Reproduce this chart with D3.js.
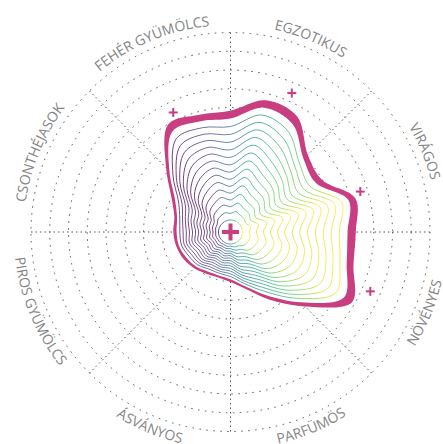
<!DOCTYPE html>
<html>
<head>
<meta charset="utf-8">
<script src="https://cdn.jsdelivr.net/npm/d3@7"></script>
<style>
  body { margin: 0; background: #fff; }
  svg { display: block; }
  .label { font-family: "Open Sans", sans-serif; font-size: 14px; fill: #858585; }
</style>
</head>
<body>
<svg id="chart" width="443" height="444"></svg>
<script>
// Categories, clockwise starting right of 12 o'clock
const categories = ['EGZOTIKUS', 'VIRÁGOS', 'NÖVÉNYES', 'PARFÜMÖS', 'ÁSVÁNYOS', 'PIROS GYÜMÖLCS', 'CSONTHÉJASOK', 'FEHÉR GYÜMÖLCS'];
const ringValues = [0, 1, 2, 3, 4, 5, 6, 7, 8, 9, 10];

// outline of the aroma blob, one value every 15 degrees
const shapeAngles = [0, 15, 30, 45, 60, 75, 90, 105, 120, 135, 150, 165, 180, 195, 210, 225, 240, 255, 270, 285, 300, 315, 330, 345];
const shapeValues = [5.83, 6.63, 6.47, 5.19, 4.97, 6.26, 6.04, 6.15, 6.84, 4.97, 3.53, 2.51, 2.03, 1.87, 1.93, 2.09, 2.25, 2.35, 2.41, 2.46, 2.99, 4.22, 5.99, 5.83];

// "+" markers
const markerAngles = [23.8, 72.7, 113, 334.4];
const markerValues = [7.46, 6.61, 7.46, 6.43];

const cx = 230.5, cy = 232;
const contourCount = 15;
const wobble = 0.028; // ripple of the inner lines, share of local radius

const svg = d3.select('#chart');
const g = svg.append('g').attr('transform', `translate(${cx},${cy})`);

const rScale = d3.scaleLinear().domain([0, 10]).range([12, 199.5]);
const catAngle = d3.scaleLinear().domain([0, categories.length]).range([22.5, 382.5]);
const rad = deg => deg * Math.PI / 180;
const polar = (deg, r) => [r * Math.sin(rad(deg)), -r * Math.cos(rad(deg))];

// Gradient for the inner contour lines
const defs = svg.append('defs');
const grad = defs.append('linearGradient').attr('id', 'contourGrad')
    .attr('x1', '0%').attr('x2', '100%').attr('y1', '0%').attr('y2', '0%');
d3.range(0, 1.01, 0.1).forEach(t => {
    grad.append('stop').attr('offset', `${t * 100}%`).attr('stop-color', d3.interpolateViridis(t));
});

// Grid rings
g.append('g').selectAll('circle')
    .data(ringValues.slice(1))
    .join('circle')
    .attr('r', d => rScale(d))
    .attr('fill', 'none')
    .attr('stroke', '#555')
    .attr('stroke-width', 1)
    .attr('stroke-dasharray', '1.5 5.5');

// Radial spokes (between categories)
g.append('g').selectAll('line')
    .data(d3.range(0, 360, 45))
    .join('line')
    .attr('x1', 0).attr('y1', 0)
    .attr('x2', d => polar(d, rScale(10))[0])
    .attr('y2', d => polar(d, rScale(10))[1])
    .attr('stroke', '#555')
    .attr('stroke-width', 1)
    .attr('stroke-dasharray', '1.5 3');

// Blob contours
const shape = shapeAngles.map((a, i) => ({ a, v: shapeValues[i] }));
const contour = t => d3.lineRadial()
    .angle(d => rad(d.a))
    .radius((d, i) => rScale(d.v * t)
        + wobble * (rScale(d.v) - rScale(0)) * Math.sin(Math.PI * t) * (i % 2 ? 1 : -1))
    .curve(d3.curveCatmullRomClosed.alpha(0.5))(shape);

const blob = g.append('g');
// outer magenta band
blob.append('path')
    .attr('d', contour(1))
    .attr('fill', '#c83e81');
blob.append('path')
    .attr('d', contour((contourCount - 1) / contourCount))
    .attr('fill', '#fff');
blob.append('g').selectAll('path')
    .data(d3.range(0, contourCount - 1))
    .join('path')
    .attr('d', k => contour(k / contourCount))
    .attr('fill', 'none')
    .attr('stroke', 'url(#contourGrad)')
    .attr('stroke-opacity', 0.75)
    .attr('stroke-width', 1);

// Markers
const plus = (size, w) => sel => {
    sel.append('line').attr('x1', -size).attr('x2', size).attr('y1', 0).attr('y2', 0);
    sel.append('line').attr('y1', -size).attr('y2', size).attr('x1', 0).attr('x2', 0);
    sel.attr('stroke', '#c83e81').attr('stroke-width', w);
};
g.append('g').selectAll('g')
    .data(markerAngles.map((a, i) => ({ a, v: markerValues[i] })))
    .join('g')
    .attr('transform', d => `translate(${polar(d.a, rScale(d.v))})`)
    .each(function() { plus(4.5, 2)(d3.select(this)); });
g.append('g').call(plus(8.5, 4));

// Curved category labels
const labelArc = deg => {
    const bottom = deg > 90 && deg < 270;
    const r = bottom ? 217 : 207;
    const s = polar(bottom ? deg + 40 : deg - 40, r);
    const e = polar(bottom ? deg - 40 : deg + 40, r);
    return `M${s[0]},${s[1]} A${r},${r} 0 0 ${bottom ? 0 : 1} ${e[0]},${e[1]}`;
};
categories.forEach((c, i) => {
    const deg = catAngle(i) % 360;
    defs.append('path').attr('id', 'arc' + i)
        .attr('d', labelArc(deg))
        .attr('transform', `translate(${cx},${cy})`);
    svg.append('text').attr('class', 'label')
        .append('textPath')
        .attr('href', '#arc' + i)
        .attr('startOffset', '50%')
        .attr('text-anchor', 'middle')
        .text(c);
});
</script>
</body>
</html>
